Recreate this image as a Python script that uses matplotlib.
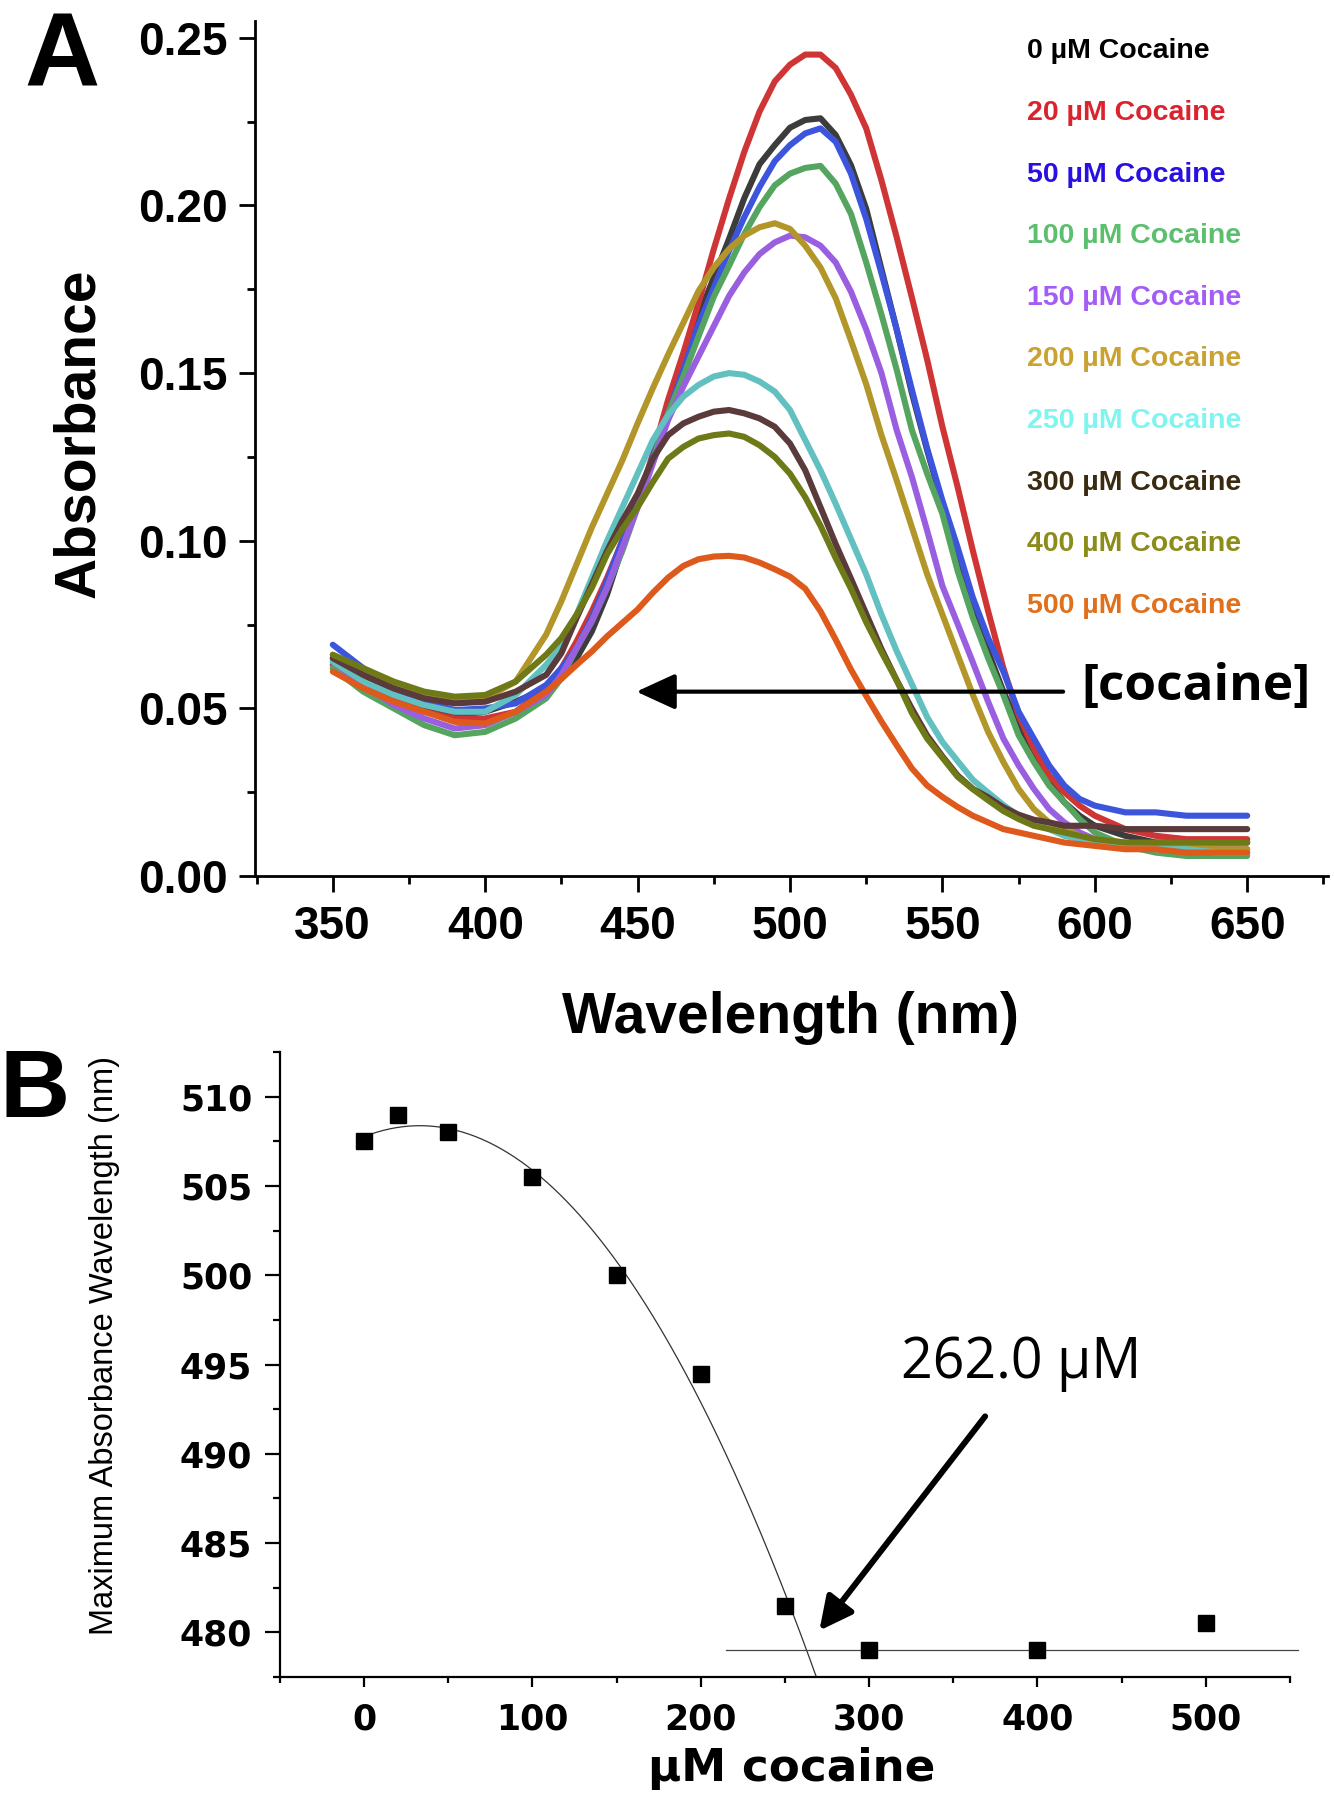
import numpy as np
import matplotlib
matplotlib.use('Agg')
import matplotlib.pyplot as plt
from matplotlib.ticker import MultipleLocator

plt.rcParams['font.family'] = ['Liberation Sans', 'DejaVu Sans']
plt.rcParams['font.weight'] = 'bold'

# --- panel A: absorbance spectra (5 nm steps around the band) ---
wavelength = list(range(350, 420, 10)) + list(range(420, 600, 5)) + list(range(600, 660, 10))
abs_0 = [0.065, 0.059, 0.054, 0.050, 0.048, 0.049, 0.052, 0.056,
         0.060, 0.065, 0.073, 0.084, 0.098, 0.112, 0.125, 0.138, 0.1525, 0.167,
         0.1785, 0.190, 0.2022, 0.2123, 0.218, 0.2232, 0.2255, 0.226, 0.221, 0.212,
         0.199, 0.181, 0.163, 0.144, 0.127, 0.111, 0.095, 0.080, 0.067, 0.055,
         0.045, 0.036, 0.028, 0.022, 0.018, 0.015,
         0.012, 0.010, 0.010, 0.010, 0.010]
abs_20 = [0.063, 0.058, 0.053, 0.049, 0.047, 0.047, 0.049, 0.056,
          0.062, 0.070, 0.079, 0.089, 0.100, 0.111, 0.126, 0.142, 0.156, 0.171,
          0.187, 0.202, 0.216, 0.228, 0.237, 0.242, 0.245, 0.245, 0.241, 0.233,
          0.223, 0.2075, 0.1905, 0.1725, 0.154, 0.134, 0.116, 0.097, 0.079, 0.062,
          0.048, 0.038, 0.030, 0.025, 0.021, 0.018,
          0.014, 0.012, 0.011, 0.011, 0.011]
abs_50 = [0.069, 0.062, 0.056, 0.052, 0.0495, 0.050, 0.0515, 0.057,
          0.062, 0.068, 0.077, 0.088, 0.100, 0.112, 0.125, 0.138, 0.151, 0.1645,
          0.1755, 0.1865, 0.1965, 0.2055, 0.2132, 0.218, 0.2215, 0.223, 0.219, 0.2095,
          0.196, 0.1798, 0.163, 0.145, 0.1275, 0.112, 0.098, 0.083, 0.071, 0.061,
          0.049, 0.041, 0.033, 0.027, 0.023, 0.021,
          0.019, 0.019, 0.018, 0.018, 0.018]
abs_100 = [0.062, 0.055, 0.050, 0.045, 0.042, 0.043, 0.047, 0.053,
           0.059, 0.068, 0.076, 0.086, 0.097, 0.110, 0.124, 0.138, 0.149, 0.161,
           0.1728, 0.182, 0.1915, 0.1995, 0.206, 0.2095, 0.2112, 0.2118, 0.2065, 0.1975,
           0.183, 0.1675, 0.151, 0.133, 0.120, 0.108, 0.091, 0.077, 0.065, 0.054,
           0.042, 0.034, 0.027, 0.022, 0.017, 0.013,
           0.009, 0.007, 0.006, 0.006, 0.006]
abs_150 = [0.064, 0.057, 0.051, 0.047, 0.044, 0.045, 0.049, 0.054,
           0.060, 0.068, 0.076, 0.086, 0.098, 0.110, 0.123, 0.136, 0.146, 0.155,
           0.164, 0.173, 0.180, 0.1855, 0.189, 0.191, 0.1905, 0.188, 0.183, 0.1743,
           0.163, 0.150, 0.133, 0.119, 0.103, 0.0865, 0.0752, 0.0637, 0.052, 0.041,
           0.033, 0.026, 0.020, 0.016, 0.013, 0.011,
           0.009, 0.008, 0.008, 0.008, 0.008]
abs_200 = [0.066, 0.061, 0.057, 0.054, 0.052, 0.053, 0.058, 0.072,
           0.082, 0.093, 0.104, 0.114, 0.124, 0.135, 0.1455, 0.1555, 0.165, 0.1745,
           0.1815, 0.187, 0.191, 0.1935, 0.1947, 0.193, 0.188, 0.1815, 0.1723, 0.1597,
           0.1467, 0.1315, 0.118, 0.104, 0.090, 0.078, 0.066, 0.054, 0.043, 0.034,
           0.026, 0.020, 0.016, 0.014, 0.012, 0.011,
           0.010, 0.009, 0.009, 0.008, 0.008]
abs_250 = [0.064, 0.058, 0.054, 0.051, 0.049, 0.049, 0.054, 0.063,
           0.0685, 0.078, 0.089, 0.100, 0.110, 0.120, 0.130, 0.1375, 0.143, 0.1465,
           0.149, 0.150, 0.1495, 0.1475, 0.1445, 0.139, 0.130, 0.121, 0.111, 0.1005,
           0.090, 0.078, 0.0671, 0.0572, 0.0474, 0.040, 0.0343, 0.0287, 0.0249, 0.0212,
           0.018, 0.016, 0.014, 0.012, 0.011, 0.010,
           0.009, 0.008, 0.008, 0.007, 0.007]
abs_300 = [0.065, 0.060, 0.056, 0.053, 0.0515, 0.052, 0.055, 0.060,
           0.0665, 0.077, 0.087, 0.097, 0.106, 0.114, 0.1245, 0.1315, 0.135, 0.137,
           0.1385, 0.139, 0.138, 0.1365, 0.134, 0.129, 0.121, 0.110, 0.099, 0.0887,
           0.0782, 0.0677, 0.0584, 0.0499, 0.0419, 0.0357, 0.030, 0.026, 0.0235, 0.0205,
           0.0183, 0.0168, 0.016, 0.015, 0.015, 0.015,
           0.014, 0.014, 0.014, 0.014, 0.014]
abs_400 = [0.066, 0.062, 0.058, 0.055, 0.0535, 0.054, 0.058, 0.066,
           0.071, 0.078, 0.086, 0.096, 0.1035, 0.110, 0.1175, 0.1245, 0.128, 0.1305,
           0.1315, 0.132, 0.131, 0.1285, 0.125, 0.120, 0.113, 0.1045, 0.0948, 0.0857,
           0.0757, 0.0668, 0.0584, 0.0486, 0.041, 0.0353, 0.0296, 0.0259, 0.0226, 0.0194,
           0.017, 0.015, 0.014, 0.013, 0.012, 0.011,
           0.010, 0.010, 0.010, 0.010, 0.010]
abs_500 = [0.061, 0.056, 0.052, 0.049, 0.046, 0.0455, 0.049, 0.055,
           0.0588, 0.063, 0.067, 0.0715, 0.0755, 0.0795, 0.0845, 0.089, 0.0925, 0.0945,
           0.0953, 0.0955, 0.095, 0.0935, 0.0915, 0.0893, 0.0857, 0.079, 0.0705, 0.0616,
           0.0537, 0.0461, 0.039, 0.0321, 0.027, 0.0236, 0.0206, 0.018, 0.016, 0.014,
           0.013, 0.012, 0.011, 0.010, 0.0095, 0.009,
           0.008, 0.008, 0.007, 0.007, 0.007]

spectra = [abs_0, abs_20, abs_50, abs_100, abs_150, abs_200, abs_250, abs_300, abs_400, abs_500]
labels = ['0 µM Cocaine', '20 µM Cocaine', '50 µM Cocaine', '100 µM Cocaine', '150 µM Cocaine',
          '200 µM Cocaine', '250 µM Cocaine', '300 µM Cocaine', '400 µM Cocaine', '500 µM Cocaine']
line_colors = ['#3c3c3c', '#d03535', '#3c55dc', '#55a560', '#9a5ee0',
               '#b3962a', '#62c0c0', '#5a3a3a', '#6e7a18', '#de5a1c']
text_colors = ['#000000', '#d9232d', '#2a10e0', '#5cbf6e', '#a35cf5',
               '#c9a231', '#80f5f0', '#3a2a10', '#8c8c1a', '#e0701c']

# --- panel B: wavelength of maximum vs cocaine ---
conc = [0, 20, 50, 100, 150, 200, 250, 300, 400, 500]
lambda_max = [507.5, 509.0, 508.0, 505.5, 500.0, 494.5, 481.5, 479.0, 479.0, 480.5]
n_fit = 7          # points used for the polynomial fit
plateau = 479.0

fig = plt.figure(figsize=(13.34, 18), dpi=100)

# ================= A =================
axA = fig.add_axes([0.1912, 0.5133, 0.8043, 0.475])
for y, c in zip(spectra, line_colors):
    axA.plot(wavelength, y, color=c, lw=4.4, solid_capstyle='round', solid_joinstyle='round')

axA.set_xlim(324.5, 676.5)
axA.set_ylim(0, 0.255)
axA.set_xticks([350, 400, 450, 500, 550, 600, 650])
axA.xaxis.set_minor_locator(MultipleLocator(25))
axA.yaxis.set_major_locator(MultipleLocator(0.05))
axA.yaxis.set_minor_locator(MultipleLocator(0.025))
axA.yaxis.set_major_formatter(plt.FormatStrFormatter('%.2f'))
for s in ['top', 'right']:
    axA.spines[s].set_visible(False)
for s in ['left', 'bottom']:
    axA.spines[s].set_linewidth(2)
axA.tick_params(which='major', length=11.5, width=2, labelsize=33, pad=8)
axA.tick_params(which='minor', length=5.5, width=2)
axA.tick_params(axis='x', which='major', pad=9)

axA.set_xlabel('Wavelength (nm)', fontsize=41, fontweight='bold', va='center')
axA.xaxis.set_label_coords(0.4986, -0.166)
axA.set_ylabel('Absorbance', fontsize=41, fontweight='bold', va='center')
axA.yaxis.set_label_coords(-0.164, 0.518)

for i, (lab, c) in enumerate(zip(labels, text_colors)):
    axA.text(577.7, 0.2439 - i * 0.01838, lab, color=c, fontsize=20.5, fontweight='bold',
             ha='left', va='baseline')

axA.annotate('', xy=(449.6, 0.055), xytext=(589.6, 0.055),
             arrowprops=dict(arrowstyle='-|>,head_length=1.2,head_width=0.55', lw=3, color='black',
                             mutation_scale=20, shrinkA=0, shrinkB=0))
axA.text(633.2, 0.0564, '[cocaine]', fontsize=37, fontweight='bold', family='Open Sans',
         ha='center', va='center')

fig.text(62 / 1334, 1 - 85 / 1800, 'A', fontsize=75, fontweight='bold', ha='center', va='baseline')

# ================= B =================
axB = fig.add_axes([0.2099, 0.0683, 0.7571, 0.3472])
coef = np.polyfit(conc[:n_fit], lambda_max[:n_fit], 2)
xs = np.linspace(0, 290, 300)
axB.plot(xs, np.polyval(coef, xs), color='#333333', lw=0.9)
axB.plot([215, 555], [plateau, plateau], color='#444444', lw=0.9, clip_on=False)
axB.plot(conc, lambda_max, 's', color='black', markersize=12)

axB.set_xlim(-50, 550)
axB.set_ylim(477.5, 512.5)
axB.set_xticks([0, 100, 200, 300, 400, 500])
axB.xaxis.set_minor_locator(MultipleLocator(50))
axB.set_yticks([480, 485, 490, 495, 500, 505, 510])
axB.yaxis.set_minor_locator(MultipleLocator(2.5))
for s in ['top', 'right']:
    axB.spines[s].set_visible(False)
for s in ['left', 'bottom']:
    axB.spines[s].set_linewidth(1.6)
axB.tick_params(axis='y', which='major', length=11, width=1.6, pad=9)
axB.tick_params(axis='y', which='minor', length=5, width=1.6)
axB.tick_params(axis='x', which='major', length=7, width=1.6, pad=11)
axB.tick_params(axis='x', which='minor', length=4, width=1.6)
for t in axB.get_xticklabels() + axB.get_yticklabels():
    t.set_family('DejaVu Sans')
    t.set_fontweight('bold')
    t.set_fontsize(25)

axB.set_xlabel('µM cocaine', family='DejaVu Sans', fontsize=32.5, fontweight='bold', va='center')
axB.xaxis.set_label_coords(0.507, -0.146)
ylab = axB.set_ylabel('Maximum Absorbance Wavelength (nm)',
                      family=['Liberation Sans Narrow', 'Liberation Sans'], fontweight='normal',
                      fontsize=28, va='center')
axB.yaxis.set_label_coords(-0.174, 0.53)

axB.annotate('', xy=(270.4, 480.1), xytext=(368.9, 492.1),
             arrowprops=dict(arrowstyle='-|>,head_length=0.8,head_width=0.4', lw=4.3, color='black',
                             mutation_scale=25, shrinkA=0, shrinkB=0))
axB.text(390.3, 495.05, '262.0 µM', fontsize=40, family='Open Sans', fontweight='normal',
         ha='center', va='center')

fig.text(35 / 1334, 1 - 1117 / 1800, 'B', fontsize=70, fontweight='bold', ha='center', va='baseline')

# squeeze the long y label of B to the height it has in the figure
fig.canvas.draw()
h = ylab.get_window_extent().height
ylab.set_fontsize(ylab.get_fontsize() * 580 / h)

fig.savefig('out.png', dpi=100, facecolor='white')
